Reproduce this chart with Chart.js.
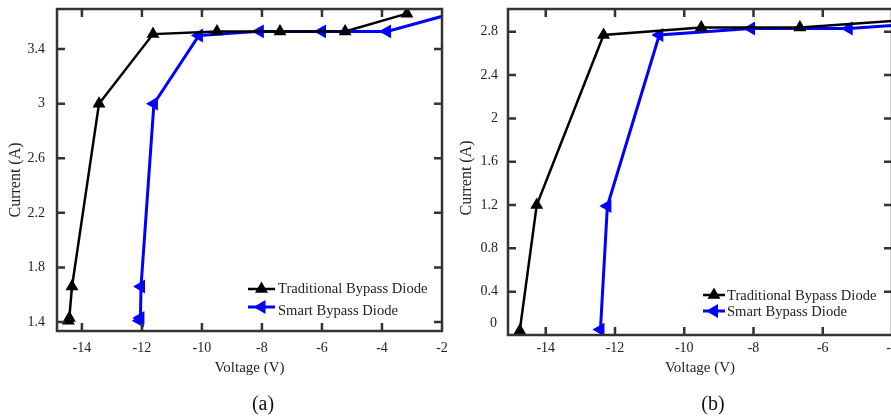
<!DOCTYPE html>
<html>
<head>
<meta charset="utf-8">
<script src="https://cdn.jsdelivr.net/npm/chart.js@4.4.0/dist/chart.umd.min.js"></script>
<style>
  html, body { margin: 0; padding: 0; background: #fff; overflow: hidden; width: 891px; height: 417px; }
  .panel { position: absolute; top: 0; }
  #chart-a { left: 0; }
  #chart-b { left: 450px; }
  .caption { position: absolute; top: 393px; line-height: 20px; font-family: 'Liberation Serif', serif; font-size: 20px; color: #111; transform: translateX(-50%); }
</style>
</head>
<body>
<canvas class="panel" id="chart-a" width="450" height="417"></canvas>
<canvas class="panel" id="chart-b" width="450" height="417"></canvas>
<div class="caption" style="left:263px">(a)</div>
<div class="caption" style="left:713px">(b)</div>
<script>
// panel (a)
const voltA_trad  = [-14.45, -14.42, -14.33, -13.43, -11.63, -9.5, -7.4, -5.23, -3.17];
const currA_trad  = [1.41, 1.43, 1.66, 3.0, 3.51, 3.53, 3.53, 3.53, 3.66];
const voltA_smart = [-12.07, -12.05, -12.03, -11.6, -10.1, -8.07, -6.0, -3.83, -1.5];
const currA_smart = [1.41, 1.43, 1.66, 3.0, 3.5, 3.53, 3.53, 3.53, 3.67];
const xTicksA = [-14, -12, -10, -8, -6, -4, -2];
const yTicksA = [1.4, 1.8, 2.2, 2.6, 3, 3.4];

// panel (b)
const voltB_trad  = [-14.75, -14.26, -12.33, -9.51, -6.66, -3.5];
const currB_trad  = [0.04, 1.2, 2.77, 2.84, 2.84, 2.91];
const voltB_smart = [-12.42, -12.22, -10.72, -8.07, -5.25, -3.0];
const currB_smart = [0.05, 1.19, 2.77, 2.83, 2.83, 2.88];
const xTicksB = [-14, -12, -10, -8, -6, -4];
const yTicksB = [0, 0.4, 0.8, 1.2, 1.6, 2, 2.4, 2.8];

const labels = ['Traditional Bypass Diode', 'Smart Bypass Diode'];
const serif = "'Liberation Serif', 'Times New Roman', serif";
const ink = '#222';

const pts = (xs, ys) => xs.map((v, i) => ({ x: v, y: ys[i] }));

function series(xs, ys, idx) {
  const col = idx === 0 ? '#000000' : '#0000ff';
  return {
    label: labels[idx],
    data: pts(xs, ys),
    borderColor: col,
    backgroundColor: col,
    borderWidth: idx === 0 ? 2.5 : 3,
    pointStyle: 'triangle',
    pointRotation: idx === 0 ? 0 : -90,
    pointRadius: 5,
    pointHoverRadius: 5,
    tension: 0,
    clip: 0
  };
}

// frame, inward ticks on all sides, y title, in-plot legend
const framePlugin = {
  id: 'framePlugin',
  afterDatasetsDraw(chart, args, opts) {
    const { ctx, chartArea: a, scales: { x, y } } = chart;
    ctx.save();
    ctx.strokeStyle = '#333';
    ctx.lineWidth = 2.5;
    const len = 8;
    ctx.beginPath();
    x.ticks.forEach(t => {
      const px = x.getPixelForValue(t.value);
      if (px <= a.left + 2 || px >= a.right - 2) return;
      ctx.moveTo(px, a.top); ctx.lineTo(px, a.top + len);
      ctx.moveTo(px, a.bottom); ctx.lineTo(px, a.bottom - len);
    });
    y.ticks.forEach(t => {
      const py = y.getPixelForValue(t.value);
      if (py <= a.top + 2 || py >= a.bottom - 2) return;
      ctx.moveTo(a.left, py); ctx.lineTo(a.left + len, py);
      ctx.moveTo(a.right, py); ctx.lineTo(a.right - len, py);
    });
    ctx.stroke();
    ctx.strokeRect(a.left, a.top, a.right - a.left, a.bottom - a.top);

    // y axis title, sits a bit below the plot centre
    ctx.save();
    ctx.translate(opts.titleX, (a.top + a.bottom) / 2 + opts.titleDy);
    ctx.rotate(-Math.PI / 2);
    ctx.font = '16px ' + serif;
    ctx.fillStyle = ink;
    ctx.textAlign = 'center';
    ctx.textBaseline = 'middle';
    ctx.fillText('Current (A)', 0, 0);
    ctx.restore();

    // legend
    ctx.font = '14.6px ' + serif;
    ctx.textBaseline = 'middle';
    ctx.textAlign = 'left';
    chart.data.datasets.forEach((ds, i) => {
      const row = opts.rows[i];
      ctx.strokeStyle = ds.borderColor;
      ctx.fillStyle = ds.borderColor;
      ctx.lineWidth = ds.borderWidth;
      ctx.beginPath();
      ctx.moveTo(opts.x1, row.line);
      ctx.lineTo(opts.x2, row.line);
      ctx.stroke();
      Chart.helpers.drawPoint(ctx, {
        pointStyle: ds.pointStyle, radius: 5, rotation: ds.pointRotation, borderWidth: 1
      }, (opts.x1 + opts.x2) / 2, row.line);
      ctx.fillStyle = ink;
      ctx.fillText(ds.label, opts.tx, row.text);
    });

    // zero label sits a little above the axis
    if (opts.zeroLabel) {
      ctx.font = '14px ' + serif;
      ctx.textAlign = 'right';
      ctx.fillStyle = ink;
      ctx.fillText('0', a.left - 11, y.getPixelForValue(0) - 12);
    }
    ctx.restore();
  }
};

function makeChart(id, cfg) {
  return new Chart(document.getElementById(id), {
    type: 'line',
    data: { datasets: cfg.datasets },
    plugins: [framePlugin],
    options: {
      responsive: false,
      animation: false,
      events: [],
      layout: { padding: { top: 9, right: 7, bottom: 40, left: 0 } },
      plugins: {
        legend: { display: false },
        tooltip: { enabled: false },
        framePlugin: cfg.legend
      },
      scales: {
        x: {
          type: 'linear',
          min: cfg.xMin, max: cfg.xMax,
          grid: { display: false, drawTicks: false },
          border: { display: false },
          afterBuildTicks: s => { s.ticks = cfg.xTicks.map(v => ({ value: v })); },
          afterFit: s => { s.height = cfg.xHeight; s.paddingLeft = 0; s.paddingRight = 0; },
          ticks: { padding: cfg.xPad, maxRotation: 0, color: ink, font: { family: serif, size: 14 } },
          title: { display: true, text: 'Voltage (V)', color: ink, padding: 0, font: { family: serif, size: 15 } }
        },
        y: {
          type: 'linear',
          min: cfg.yMin, max: cfg.yMax,
          grid: { display: false, drawTicks: false },
          border: { display: false },
          afterBuildTicks: s => { s.ticks = cfg.yTicks.map(v => ({ value: v })); },
          afterFit: s => { s.width = cfg.yWidth; s.paddingTop = 0; s.paddingBottom = 0; },
          ticks: {
            padding: cfg.yPad, color: ink, font: { family: serif, size: 14 },
            callback: v => (cfg.legend.zeroLabel && v === 0) ? '' : String(v)
          },
          title: { display: false }
        }
      }
    }
  });
}

makeChart('chart-a', {
  datasets: [series(voltA_trad, currA_trad, 0), series(voltA_smart, currA_smart, 1)],
  xMin: -14.83, xMax: -2, yMin: 1.334, yMax: 3.694,
  xTicks: xTicksA, yTicks: yTicksA,
  xHeight: 46, yWidth: 57, xPad: 9, yPad: 12,
  legend: { titleX: 16, titleDy: 10, x1: 248, x2: 275, tx: 278, rows: [{ line: 289, text: 289 }, { line: 307, text: 311 }] }
});

makeChart('chart-b', {
  datasets: [series(voltB_trad, currB_trad, 0), series(voltB_smart, currB_smart, 1)],
  xMin: -15.09, xMax: -4, yMin: 0, yMax: 3.01,
  xTicks: xTicksB, yTicks: yTicksB,
  xHeight: 42, yWidth: 58, xPad: 5, yPad: 10,
  legend: { titleX: 17, titleDy: 6, zeroLabel: true, x1: 253, x2: 275, tx: 277, rows: [{ line: 295, text: 296 }, { line: 311, text: 312 }] }
});
</script>
</body>
</html>
